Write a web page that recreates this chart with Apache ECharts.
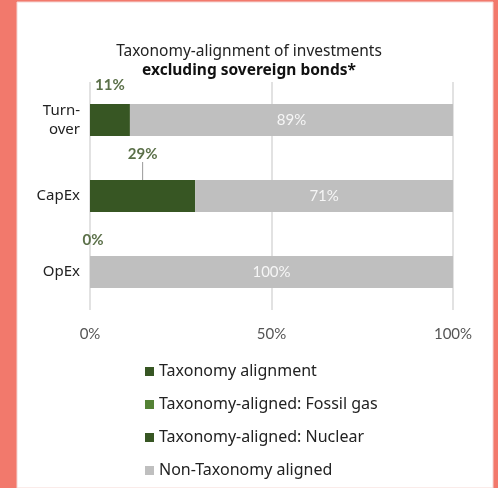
<!DOCTYPE html>
<html>
<head>
<meta charset="utf-8">
<script src="https://cdn.jsdelivr.net/npm/echarts@6/dist/echarts.min.js"></script>
<style>
html,body{margin:0;padding:0;background:#f2796c;}
#c{width:498px;height:488px;}
</style>
</head>
<body>
<div id="c"></div>
<script>
const categories = ['Turn-\nover', 'CapEx', 'OpEx'];
const taxonomyAlignment = [11, 29, 0];
const fossilGas = [0, 0, 0];
const nuclear = [0, 0, 0];
const nonTaxonomy = [89, 71, 100];
const xTicks = [0, 50, 100];
const titleLine1 = 'Taxonomy-alignment of investments';
const titleLine2 = 'excluding sovereign bonds*';

const chart = echarts.init(document.getElementById('c'), null, {renderer: 'canvas'});
const FONT = 'Lato';
const option = {
  backgroundColor: '#f2796c',
  animation: false,
  graphic: [{
    type: 'rect', z: -10,
    shape: {x: 17, y: 2, width: 476, height: 486},
    style: {fill: '#ffffff', stroke: '#f4d6d3', lineWidth: 1}
  }],
  title: {
    text: titleLine1 + '\n{b|' + titleLine2 + '}',
    left: 'center', top: 37,
    textStyle: {
      fontFamily: 'Noto Sans', fontSize: 15.5, fontWeight: 'normal', color: '#222', lineHeight: 19,
      rich: {b: {fontFamily: 'Noto Sans', fontSize: 15.5, fontWeight: 'bold', color: '#111', lineHeight: 19}}
    }
  },
  grid: {left: 90, right: 45, top: 82, height: 228, containLabel: false},
  xAxis: {
    type: 'value', min: 0, max: 100, interval: 50,
    axisLine: {show: false}, axisTick: {show: false},
    splitLine: {show: true, lineStyle: {color: '#d9d9d9', width: 1.5}},
    axisLabel: {
      formatter: v => xTicks.includes(v) ? v + '%' : '',
      color: '#555', fontFamily: FONT, fontSize: 15, margin: 17
    }
  },
  yAxis: {
    type: 'category', data: categories, inverse: true,
    axisLine: {show: false}, axisTick: {show: false},
    axisLabel: {color: '#222', fontFamily: 'Noto Sans', fontSize: 15, margin: 10, align: 'right', lineHeight: 19}
  },
  legend: {
    orient: 'vertical', left: 140, top: 357,
    itemWidth: 9, itemHeight: 9, itemGap: 14,
    icon: 'rect',
    textStyle: {color: '#222', fontFamily: 'Noto Sans', fontSize: 16, lineHeight: 19},
    data: ['Taxonomy alignment', 'Taxonomy-aligned: Fossil gas', 'Taxonomy-aligned: Nuclear', 'Non-Taxonomy aligned']
  },
  series: [
    {
      name: 'Taxonomy alignment', type: 'bar', stack: 's',
      data: taxonomyAlignment.map((v, i) => ({value: v, labelLine: {show: i === 1}})),
      barWidth: 32, itemStyle: {color: '#375623'},
      label: {
        show: true, position: 'top', distance: 8, formatter: p => p.value + '%',
        color: '#5b7049', fontWeight: 'bold', fontFamily: FONT, fontSize: 15
      },
      labelLayout: function (params) {
        if (params.dataIndex === 1) return {dy: -10};
        if (params.dataIndex === 2) return {dx: 3};
        return {dy: -3};
      },
      labelLine: {lineStyle: {color: '#999', width: 1}, length2: 0, smooth: false}
    },
    {
      name: 'Taxonomy-aligned: Fossil gas', type: 'bar', stack: 's', data: fossilGas,
      barWidth: 32, itemStyle: {color: '#548235'}
    },
    {
      name: 'Taxonomy-aligned: Nuclear', type: 'bar', stack: 's', data: nuclear,
      barWidth: 32, itemStyle: {color: '#375623'}
    },
    {
      name: 'Non-Taxonomy aligned', type: 'bar', stack: 's', data: nonTaxonomy,
      barWidth: 32, itemStyle: {color: '#bfbfbf'},
      label: {
        show: true, position: 'inside', formatter: p => p.value + '%',
        color: 'rgba(255,255,255,0.85)', fontFamily: FONT, fontSize: 15
      }
    }
  ]
};
chart.setOption(option);
</script>
</body>
</html>
